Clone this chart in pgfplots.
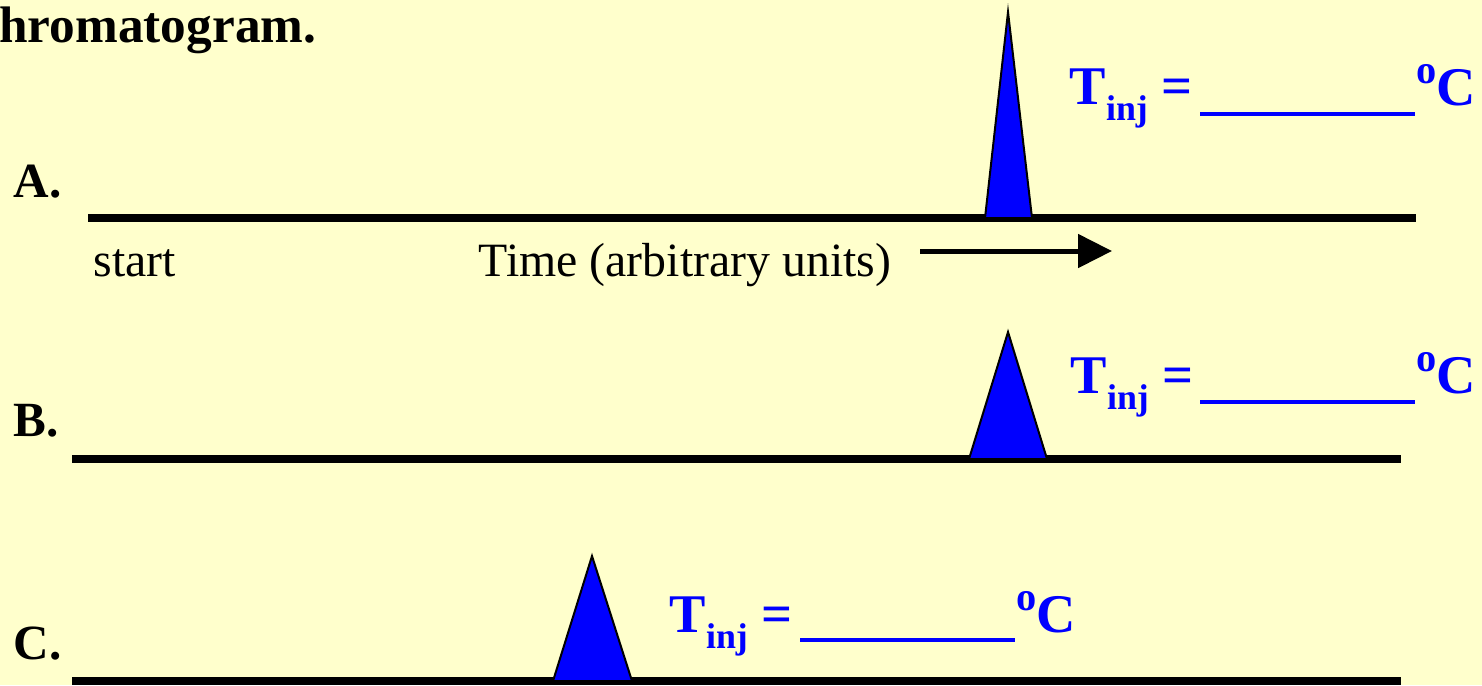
\documentclass[border=0pt]{standalone}
\usepackage{pgfplots}
\pgfplotsset{compat=1.18}
\usetikzlibrary{arrows.meta}
\usepackage{fontspec}
\setmainfont{Liberation Serif}
\definecolor{slidebg}{RGB}{255,255,204}
\definecolor{peakblue}{RGB}{0,0,255}

% pixel coordinates of the slide: x to the right, y upwards (685 - row)
\pgfplotstableread{
x y
985 467
1008 673
1032 467
}\peakA
\pgfplotstableread{
x y
969 226
1008 353
1047 226
}\peakB
\pgfplotstableread{
x y
553 4
592 129
632 4
}\peakC

\newcommand{\tinj}{\textbf{T\raisebox{-4.8pt}{\fontsize{10.2}{11}\selectfont inj}\ =}}
\newcommand{\degc}{\textbf{\raisebox{6pt}{\fontsize{11.5}{11}\selectfont o}C}}

\begin{document}
\begin{tikzpicture}
\begin{axis}[
  hide axis,
  scale only axis,
  width=14.82cm, height=6.85cm,
  xmin=0, xmax=1482,
  ymin=0, ymax=685,
  clip=true,
]
  \fill[slidebg] (rel axis cs:0,0) rectangle (rel axis cs:1,1);

  % baselines
  \addplot[black, line width=0.08cm] coordinates {(88,467) (1416,467)};
  \addplot[black, line width=0.08cm] coordinates {(72,226) (1401,226)};
  \addplot[black, line width=0.08cm] coordinates {(72,4) (1401,4)};

  % peaks
  \addplot[fill=peakblue, draw=black, line width=0.02cm] table {\peakA} -- cycle;
  \addplot[fill=peakblue, draw=black, line width=0.02cm] table {\peakB} -- cycle;
  \addplot[fill=peakblue, draw=black, line width=0.02cm] table {\peakC} -- cycle;

  % time arrow
  \addplot[black, line width=0.05cm, -{Triangle[length=0.34cm,width=0.33cm]}]
    coordinates {(920,434) (1112,434)};

  % answer blanks
  \addplot[peakblue, line width=0.04cm] coordinates {(1200,571) (1415,571)};
  \addplot[peakblue, line width=0.04cm] coordinates {(1200,283) (1415,283)};
  \addplot[peakblue, line width=0.04cm] coordinates {(800,45) (1015,45)};

  % text
  \node[anchor=base east, inner sep=0pt, font=\fontsize{14.6}{16}\selectfont\bfseries]
    at (axis cs:317,643) {chromatogram.};
  \node[anchor=base west, inner sep=0pt, font=\fontsize{14}{16}\selectfont\bfseries]
    at (axis cs:13,488) {A.};
  \node[anchor=base west, inner sep=0pt, font=\fontsize{14}{16}\selectfont\bfseries]
    at (axis cs:13,249) {B.};
  \node[anchor=base west, inner sep=0pt, font=\fontsize{14}{16}\selectfont\bfseries]
    at (axis cs:13,26) {C.};
  \node[anchor=base west, inner sep=0pt, font=\fontsize{13.6}{16}\selectfont]
    at (axis cs:93,409) {start};
  \node[anchor=base west, inner sep=0pt, font=\fontsize{13.6}{16}\selectfont]
    at (axis cs:478,409) {Time (arbitrary units)};

  \node[anchor=base west, inner sep=0pt, text=peakblue, font=\fontsize{15.5}{16}\selectfont]
    at (axis cs:1069,581) {\tinj};
  \node[anchor=base west, inner sep=0pt, text=peakblue, font=\fontsize{15.5}{16}\selectfont]
    at (axis cs:1416,580) {\degc};
  \node[anchor=base west, inner sep=0pt, text=peakblue, font=\fontsize{15.5}{16}\selectfont]
    at (axis cs:1070,292) {\tinj};
  \node[anchor=base west, inner sep=0pt, text=peakblue, font=\fontsize{15.5}{16}\selectfont]
    at (axis cs:1416,292) {\degc};
  \node[anchor=base west, inner sep=0pt, text=peakblue, font=\fontsize{15.5}{16}\selectfont]
    at (axis cs:669,53) {\tinj};
  \node[anchor=base west, inner sep=0pt, text=peakblue, font=\fontsize{15.5}{16}\selectfont]
    at (axis cs:1016,53) {\degc};
\end{axis}
\pgfresetboundingbox
\path (current axis.south west) rectangle (current axis.north east);
\end{tikzpicture}
\end{document}
